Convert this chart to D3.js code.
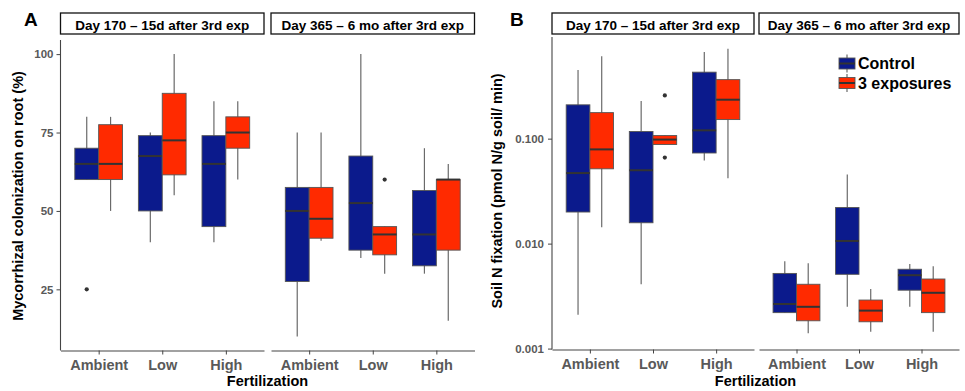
<!DOCTYPE html>
<html>
<head>
<meta charset="utf-8">
<script src="https://cdn.jsdelivr.net/npm/d3@7"></script>
<style>
  body { margin: 0; background: #fff; }
  text { font-family: "Liberation Sans", Arial, sans-serif; font-weight: bold; }
</style>
</head>
<body>
<svg id="chart" width="965" height="391"></svg>
<script>
// Categories
const groups = ["Ambient", "Low", "High"];
const treatments = ["Control", "3 exposures"];
const facetTitles = ["Day 170 \u2013 15d after 3rd exp", "Day 365 \u2013 6 mo after 3rd exp"];

// Box stats per group: [lower whisker, q1, median, q3, upper whisker]
// A: mycorrhizal colonization (%)
const myco170Control = [[60, 60, 65, 70, 80], [40, 50, 67.5, 74, 75], [40, 45, 65, 74, 85]];
const myco170Exposed = [[50, 60, 65, 77.5, 80], [55, 61.5, 72.5, 87.5, 100], [60, 70, 75, 80, 85]];
const myco365Control = [[10, 27.5, 50, 57.5, 75], [35, 37.5, 52.5, 67.5, 100], [30, 32.5, 42.5, 56.5, 70]];
const myco365Exposed = [[40.5, 41.3, 47.5, 57.5, 75], [30, 36, 42.5, 45, 45], [15, 37.5, 60, 60, 65]];
const myco170ControlOut = [[25], [], []];
const myco170ExposedOut = [[], [], []];
const myco365ControlOut = [[], [], []];
const myco365ExposedOut = [[], [60], []];
const mycoTicks = [25, 50, 75, 100];

// B: soil N fixation (pmol N/g soil/ min)
const nfix170Control = [[0.0021, 0.020, 0.047, 0.21, 0.45], [0.0041, 0.0158, 0.050, 0.117, 0.228], [0.062, 0.073, 0.12, 0.43, 0.67]];
const nfix170Exposed = [[0.0143, 0.0516, 0.079, 0.177, 0.61], [0.088, 0.088, 0.098, 0.107, 0.107], [0.042, 0.152, 0.235, 0.365, 0.72]];
const nfix365Control = [[0.0022, 0.0022, 0.00266, 0.0052, 0.0068], [0.0025, 0.0051, 0.0106, 0.0221, 0.0455], [0.0025, 0.0036, 0.0050, 0.0057, 0.0064]];
const nfix365Exposed = [[0.0014, 0.00184, 0.0025, 0.0041, 0.0065], [0.00145, 0.0018, 0.0023, 0.0029, 0.0037], [0.00145, 0.0022, 0.0034, 0.0046, 0.0061]];
const nfix170ControlOut = [[], [], []];
const nfix170ExposedOut = [[], [0.258, 0.066], []];
const nfix365ControlOut = [[], [], []];
const nfix365ExposedOut = [[], [], []];
const nfixTicks = [0.001, 0.01, 0.1];

// Colors
const fillColors = ["#0b1a8c", "#ff2a00"];
const axisColor = "#444";
const tickTextColor = "#595959";

const svg = d3.select("#chart");
svg.append("rect").attr("width", 965).attr("height", 391).attr("fill", "#fff");

function drawPlot(cfg) {
  const g = svg.append("g");
  const y = cfg.yScale;

  cfg.facets.forEach((f, fi) => {
    const x = d3.scaleLinear().domain([0.4, 3.6]).range([f[0], f[1]]);

    // strip
    g.append("rect")
      .attr("x", f[0]).attr("y", 13)
      .attr("width", f[1] - f[0]).attr("height", 21)
      .attr("fill", "#fff").attr("stroke", "#111").attr("stroke-width", 1.3);
    g.append("text")
      .attr("x", (f[0] + f[1]) / 2).attr("y", 29.5)
      .attr("text-anchor", "middle")
      .style("font-size", "13.5px")
      .text(facetTitles[fi]);

    // x axis
    g.append("g")
      .attr("transform", `translate(0,${cfg.bottom})`)
      .call(d3.axisBottom(x).tickValues([1, 2, 3])
        .tickFormat(d => groups[d - 1]).tickSize(4).tickSizeOuter(0).tickPadding(5))
      .call(a => a.select(".domain").attr("stroke", axisColor).attr("stroke-width", 1.1))
      .call(a => a.selectAll(".tick line").attr("stroke", axisColor))
      .call(a => a.selectAll(".tick text").attr("fill", tickTextColor)
        .style("font-size", "14.5px").style("font-family", "Liberation Sans, Arial, sans-serif")
        .style("font-weight", "bold"));

    // boxes
    cfg.stats[fi].forEach((trtStats, ti) => {
      trtStats.forEach((s, gi) => {
        const x0 = x(gi + 1 - 0.375 + ti * 0.375);
        const x1 = x(gi + 1 + ti * 0.375);
        const cx = (x0 + x1) / 2;
        g.append("line")
          .attr("x1", cx).attr("x2", cx)
          .attr("y1", y(s[0])).attr("y2", y(s[4]))
          .attr("stroke", "#6a6a6a").attr("stroke-width", 1.2);
        g.append("rect")
          .attr("x", x0).attr("width", x1 - x0)
          .attr("y", y(s[3])).attr("height", Math.max(0.5, y(s[1]) - y(s[3])))
          .attr("fill", fillColors[ti])
          .attr("stroke", "#555").attr("stroke-width", 0.9);
        g.append("line")
          .attr("x1", x0).attr("x2", x1)
          .attr("y1", y(s[2])).attr("y2", y(s[2]))
          .attr("stroke", "#333").attr("stroke-width", 2);
        cfg.outliers[fi][ti][gi].forEach(v => {
          g.append("circle")
            .attr("cx", cx).attr("cy", y(v)).attr("r", 2.1)
            .attr("fill", "#333");
        });
      });
    });
  });

  // y axis on first facet
  g.append("g")
    .attr("transform", `translate(${cfg.facets[0][0]},0)`)
    .call(d3.axisLeft(y).tickValues(cfg.ticks).tickFormat(cfg.tickFormat)
      .tickSize(4).tickSizeOuter(0).tickPadding(cfg.tickPad))
    .call(a => a.select(".domain").attr("stroke", axisColor).attr("stroke-width", 1.1)
      .attr("d", `M0,${cfg.bottom}V${cfg.top}`))
    .call(a => a.selectAll(".tick line").attr("stroke", axisColor))
    .call(a => a.selectAll(".tick text").attr("fill", tickTextColor)
      .style("font-size", "11.5px").style("font-family", "Liberation Sans, Arial, sans-serif")
      .style("font-weight", "bold"));

  // titles
  g.append("text")
    .attr("transform", `translate(${cfg.yTitleX},${cfg.yTitleY}) rotate(-90)`)
    .attr("text-anchor", "middle")
    .style("font-size", "14.5px")
    .text(cfg.yTitle);
  g.append("text")
    .attr("x", (cfg.facets[0][0] + cfg.facets[1][1]) / 2).attr("y", 386)
    .attr("text-anchor", "middle")
    .style("font-size", "14.5px")
    .text("Fertilization");
  g.append("text")
    .attr("x", cfg.labelX).attr("y", 25.5)
    .style("font-size", "19px")
    .text(cfg.label);
}

drawPlot({
  label: "A", labelX: 24,
  facets: [[60.5, 264], [271, 474.5]],
  top: 40, bottom: 350.5,
  yScale: d3.scaleLinear().domain([5.5, 104.5]).range([350.5, 40]),
  ticks: mycoTicks, tickFormat: d3.format("d"), tickPad: 3,
  stats: [[myco170Control, myco170Exposed], [myco365Control, myco365Exposed]],
  outliers: [[myco170ControlOut, myco170ExposedOut], [myco365ControlOut, myco365ExposedOut]],
  yTitle: "Mycorrhizal colonization on root (%)", yTitleX: 22.5, yTitleY: 196
});

drawPlot({
  label: "B", labelX: 510,
  facets: [[552, 754], [759, 959]],
  top: 37, bottom: 349.5,
  yScale: d3.scaleLog().domain([0.00098, 0.93]).range([349.5, 37]),
  ticks: nfixTicks, tickFormat: d3.format(".3f"), tickPad: 4,
  stats: [[nfix170Control, nfix170Exposed], [nfix365Control, nfix365Exposed]],
  outliers: [[nfix170ControlOut, nfix170ExposedOut], [nfix365ControlOut, nfix365ExposedOut]],
  yTitle: "Soil N fixation (pmol N/g soil/ min)", yTitleX: 502, yTitleY: 191
});

// legend
const legend = svg.append("g").attr("transform", "translate(839,0)");
treatments.forEach((t, i) => {
  const cy = 63.5 + i * 19.5;
  legend.append("line")
    .attr("x1", 8).attr("x2", 8).attr("y1", cy - 9).attr("y2", cy + 9)
    .attr("stroke", "#6a6a6a").attr("stroke-width", 1.2);
  legend.append("rect")
    .attr("x", 0).attr("y", cy - 5.5).attr("width", 16).attr("height", 11)
    .attr("fill", fillColors[i]).attr("stroke", "#555").attr("stroke-width", 0.9);
  legend.append("line")
    .attr("x1", 0).attr("x2", 16).attr("y1", cy).attr("y2", cy)
    .attr("stroke", "#333").attr("stroke-width", 2);
  legend.append("text")
    .attr("x", 19).attr("y", cy + 5.5)
    .style("font-size", "16px")
    .text(t);
});
</script>
</body>
</html>
